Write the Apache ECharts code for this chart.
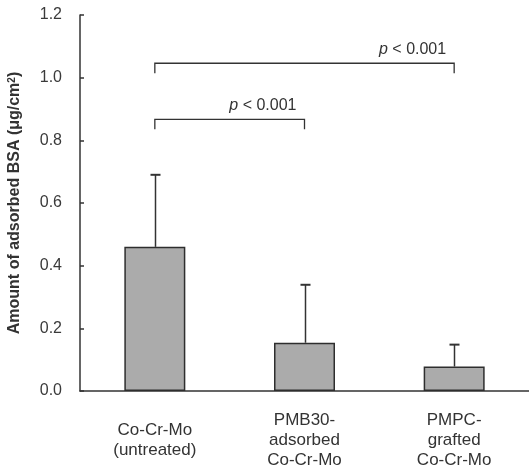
<!DOCTYPE html>
<html>
<head>
<meta charset="utf-8">
<script src="https://cdn.jsdelivr.net/npm/echarts@6/dist/echarts.min.js"></script>
<style>
  html, body { margin: 0; padding: 0; background: #fff; }
  #chart { width: 529px; height: 471px; }
</style>
</head>
<body>
<div id="chart"></div>
<script>
// categories and values
var categories = ['Co-Cr-Mo\n(untreated)', 'PMB30-\nadsorbed\nCo-Cr-Mo', 'PMPC-\ngrafted\nCo-Cr-Mo'];
var means = [0.46, 0.154, 0.078];
var sdUpper = [0.69, 0.339, 0.148];
// brackets: [from category, to category, top value, foot value]
var brackets = [[0, 1, 0.867, 0.835], [0, 2, 1.046, 1.014]];
var pLabels = ['p < 0.001', 'p < 0.001'];

var FONT = '"Liberation Sans", Arial, sans-serif';
var INK = '#333';

var chart = echarts.init(document.getElementById('chart'));

var errData = means.map(function(m, i) { return [i, m, sdUpper[i]]; });
var brData = brackets.map(function(b, i) { return [b[0], b[1], b[2], b[3], i]; });

var option = {
  animation: false,
  backgroundColor: '#fff',
  grid: { left: 80, right: 0, top: 15, bottom: 80, outerBoundsMode: 'none', containLabel: false },
  xAxis: {
    type: 'category',
    data: categories,
    axisLine: { lineStyle: { color: INK, width: 1.5 } },
    axisTick: { inside: true, length: 4, lineStyle: { color: INK, width: 1.5 } },
    axisLabel: {
      color: INK, fontFamily: FONT, fontSize: 17, lineHeight: 20,
      verticalAlign: 'middle', margin: 49, interval: 0
    }
  },
  yAxis: {
    type: 'value',
    min: 0, max: 1.2, interval: 0.2,
    name: 'Amount of adsorbed BSA (\u03bcg/cm{sup|2})',
    nameLocation: 'middle',
    nameGap: 57,
    nameTextStyle: {
      color: INK, fontFamily: FONT, fontSize: 16, fontWeight: 'bold',
      rich: { sup: { fontSize: 10, verticalAlign: 'top', fontFamily: FONT, fontWeight: 'bold', color: INK } }
    },
    axisLine: { show: true, lineStyle: { color: INK, width: 1.5 } },
    axisTick: { show: true, inside: true, length: 4, lineStyle: { color: INK, width: 1.5 } },
    splitLine: { show: false },
    axisLabel: {
      color: '#3a3a3a', fontFamily: FONT, fontSize: 16, margin: 18,
      formatter: function(v) { return v.toFixed(1); }
    }
  },
  series: [
    {
      type: 'bar',
      data: means,
      barWidth: 61,
      itemStyle: { color: '#ababab', borderColor: '#2e2e2e', borderWidth: 1.5 },
      z: 2
    },
    {
      type: 'custom',
      data: errData,
      z: 1,
      renderItem: function(params, api) {
        var top = api.coord([api.value(0), api.value(2)]);
        var base = api.coord([api.value(0), api.value(1)]);
        var x = Math.round(top[0]) + 0.5;
        var s = { stroke: INK, lineWidth: 1.5 };
        return {
          type: 'group',
          children: [
            { type: 'line', shape: { x1: x, y1: top[1], x2: x, y2: base[1] }, style: s },
            { type: 'line', shape: { x1: x - 5, y1: top[1], x2: x + 5, y2: top[1] }, style: { stroke: INK, lineWidth: 2 } }
          ]
        };
      }
    },
    {
      type: 'custom',
      data: brData,
      renderItem: function(params, api) {
        var a = api.coord([api.value(0), api.value(2)]);
        var b = api.coord([api.value(1), api.value(2)]);
        var foot = api.coord([api.value(0), api.value(3)])[1];
        var s = { stroke: INK, lineWidth: 1.3, fill: null };
        var txt = pLabels[api.value(4)].split(' ');
        return {
          type: 'group',
          children: [
            { type: 'polyline', shape: { points: [[a[0], foot], [a[0], a[1]], [b[0], b[1]], [b[0], foot]] }, style: s },
            {
              type: 'text',
              x: b[0] - 8, y: a[1] - 14,
              style: {
                text: '{i|' + txt[0] + '} ' + txt.slice(1).join(' '),
                align: 'right', verticalAlign: 'middle',
                fontFamily: FONT, fontSize: 16, fill: INK,
                rich: { i: { fontStyle: 'italic', fontFamily: FONT, fontSize: 16, fill: INK } }
              }
            }
          ]
        };
      }
    }
  ]
};

chart.setOption(option);
</script>
</body>
</html>
